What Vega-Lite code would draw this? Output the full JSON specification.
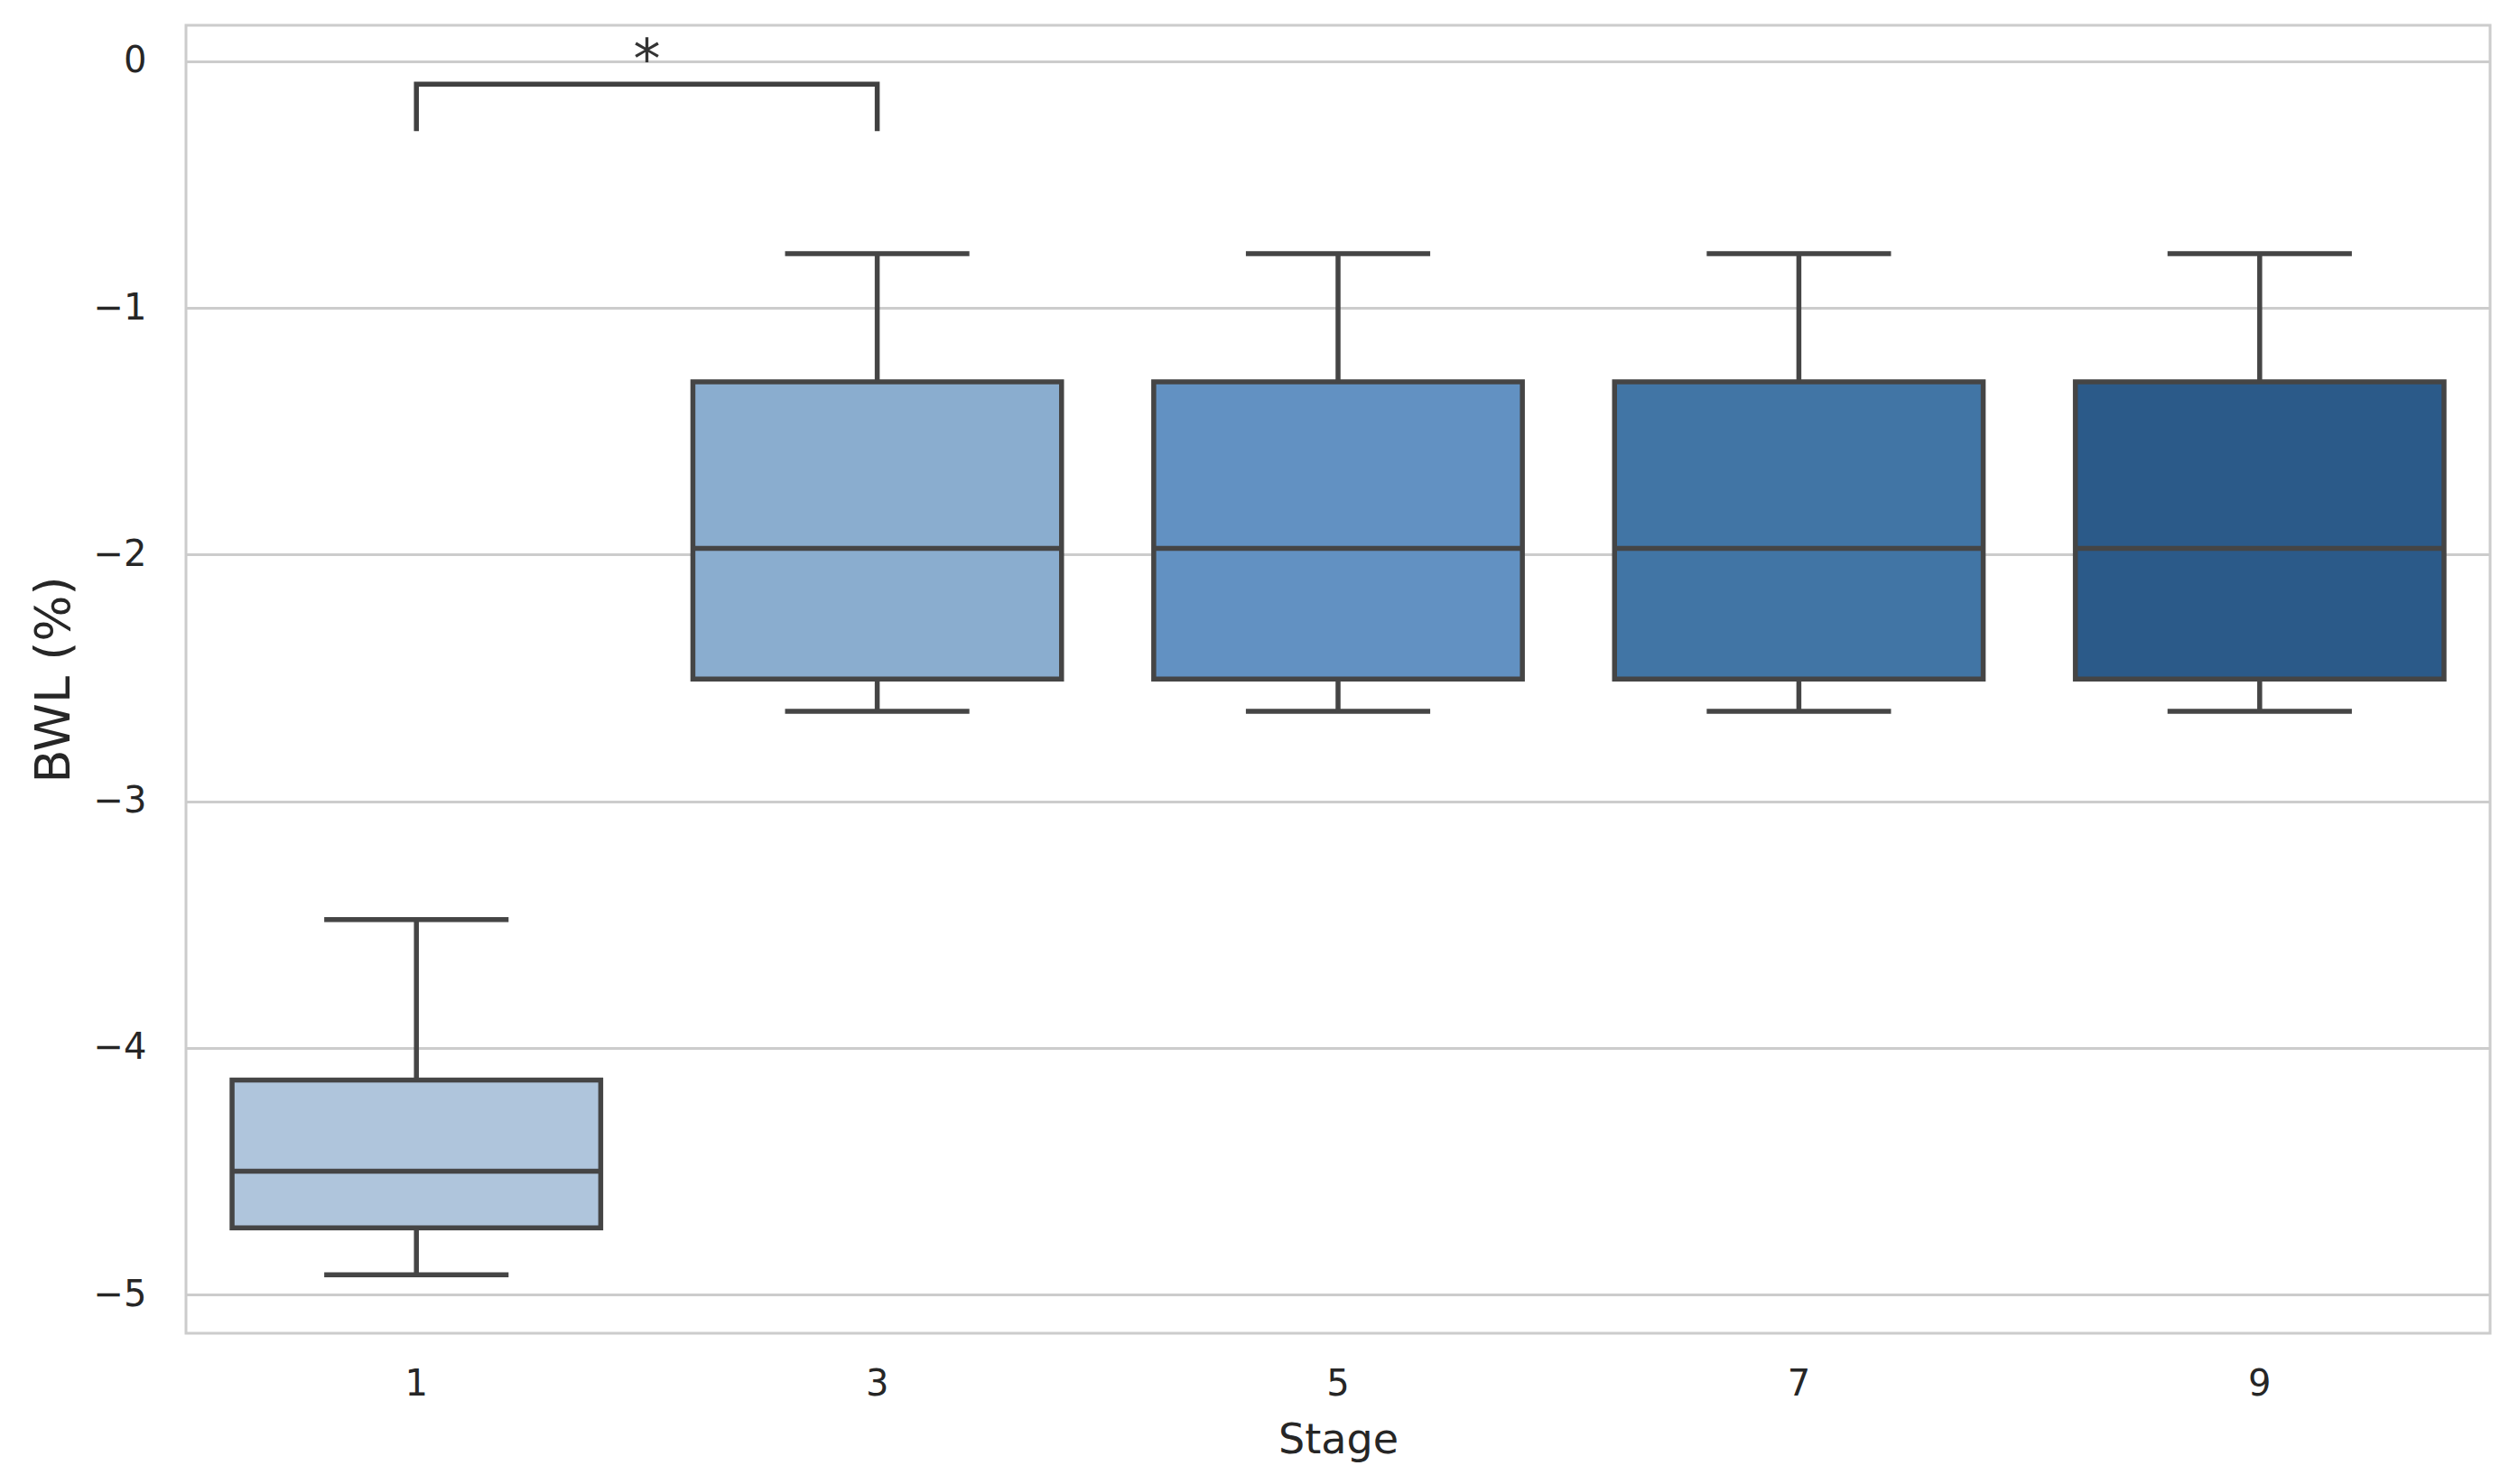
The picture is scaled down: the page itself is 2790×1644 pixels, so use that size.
{
  "$schema": "https://vega.github.io/schema/vega-lite/v6.json",
  "width": 2552,
  "height": 1449,
  "autosize": "none",
  "padding": {"left": 206, "top": 28, "right": 32, "bottom": 167},
  "background": "white",
  "config": {
    "view": {"stroke": "#cccccc", "strokeWidth": 3},
    "font": "DejaVu Sans",
    "axis": {
      "labelFont": "DejaVu Sans",
      "titleFont": "DejaVu Sans",
      "labelColor": "#262626",
      "titleColor": "#262626",
      "titleFontWeight": "normal",
      "domain": false,
      "ticks": false,
      "tickSize": 0
    }
  },
  "datasets": {
    "boxes": [
      {"stage": "1", "lower": -4.92, "q1": -4.73, "median": -4.50, "q3": -4.13, "upper": -3.48},
      {"stage": "3", "lower": -2.635, "q1": -2.505, "median": -1.975, "q3": -1.30, "upper": -0.78},
      {"stage": "5", "lower": -2.635, "q1": -2.505, "median": -1.975, "q3": -1.30, "upper": -0.78},
      {"stage": "7", "lower": -2.635, "q1": -2.505, "median": -1.975, "q3": -1.30, "upper": -0.78},
      {"stage": "9", "lower": -2.635, "q1": -2.505, "median": -1.975, "q3": -1.30, "upper": -0.78}
    ],
    "bracket": [
      {"stage": "1", "v": -0.283, "o": 0},
      {"stage": "1", "v": -0.0926, "o": 1},
      {"stage": "3", "v": -0.0926, "o": 2},
      {"stage": "3", "v": -0.283, "o": 3}
    ],
    "star": [
      {"stage": "1", "v": -0.0926, "label": "*"}
    ]
  },
  "encoding": {
    "x": {
      "field": "stage",
      "type": "ordinal",
      "sort": ["1", "3", "5", "7", "9"],
      "title": "Stage",
      "scale": {"type": "band", "paddingInner": 0, "paddingOuter": 0},
      "axis": {
        "labelAngle": 0,
        "labelFontSize": 40,
        "labelPadding": 36,
        "titleFontSize": 46,
        "titlePadding": 20,
        "grid": false
      }
    }
  },
  "layer": [
    {
      "data": {"name": "boxes"},
      "mark": {"type": "rule", "color": "#454545", "strokeWidth": 5.5},
      "encoding": {
        "y": {
          "field": "lower",
          "type": "quantitative",
          "title": "BWL (%)",
          "scale": {"domain": [-5.157, 0.146], "nice": false, "zero": false},
          "axis": {
            "values": [0, -1, -2, -3, -4, -5],
            "format": "d",
            "grid": true,
            "gridColor": "#cccccc",
            "gridWidth": 3,
            "labelFontSize": 40,
            "labelPadding": 44,
            "titleFontSize": 54,
            "titlePadding": 16
          }
        },
        "y2": {"field": "upper"}
      }
    },
    {
      "data": {"name": "boxes"},
      "mark": {"type": "bar", "filled": false, "stroke": "#454545", "strokeWidth": 5.5, "width": {"band": 0.4}},
      "encoding": {
        "y": {"field": "lower", "type": "quantitative", "title": "BWL (%)"},
        "y2": {"field": "lower"}
      }
    },
    {
      "data": {"name": "boxes"},
      "mark": {"type": "bar", "filled": false, "stroke": "#454545", "strokeWidth": 5.5, "width": {"band": 0.4}},
      "encoding": {
        "y": {"field": "upper", "type": "quantitative", "title": "BWL (%)"},
        "y2": {"field": "upper"}
      }
    },
    {
      "data": {"name": "boxes"},
      "mark": {"type": "bar", "stroke": "#454545", "strokeWidth": 5.5, "width": {"band": 0.8}, "opacity": 1},
      "encoding": {
        "y": {"field": "q1", "type": "quantitative", "title": "BWL (%)"},
        "y2": {"field": "q3"},
        "fill": {
          "field": "stage",
          "type": "ordinal",
          "scale": {"domain": ["1", "3", "5", "7", "9"], "range": ["#afc5dc", "#8aadcf", "#6291c2", "#4175a5", "#2b5a89"]},
          "legend": null
        }
      }
    },
    {
      "data": {"name": "boxes"},
      "mark": {"type": "bar", "filled": false, "stroke": "#454545", "strokeWidth": 5.5, "width": {"band": 0.8}},
      "encoding": {
        "y": {"field": "median", "type": "quantitative", "title": "BWL (%)"},
        "y2": {"field": "median"}
      }
    },
    {
      "data": {"name": "bracket"},
      "mark": {"type": "line", "color": "#404040", "strokeWidth": 5.5, "strokeJoin": "miter", "strokeCap": "butt"},
      "encoding": {
        "y": {"field": "v", "type": "quantitative", "title": "BWL (%)"},
        "order": {"field": "o", "type": "quantitative"}
      }
    },
    {
      "data": {"name": "star"},
      "mark": {"type": "text", "fontSize": 60, "color": "#333333", "baseline": "alphabetic", "align": "center", "dy": -7},
      "encoding": {
        "x": {"field": "stage", "type": "ordinal", "sort": ["1", "3", "5", "7", "9"], "bandPosition": 1, "title": "Stage"},
        "y": {"field": "v", "type": "quantitative", "title": "BWL (%)"},
        "text": {"field": "label"}
      }
    }
  ]
}
